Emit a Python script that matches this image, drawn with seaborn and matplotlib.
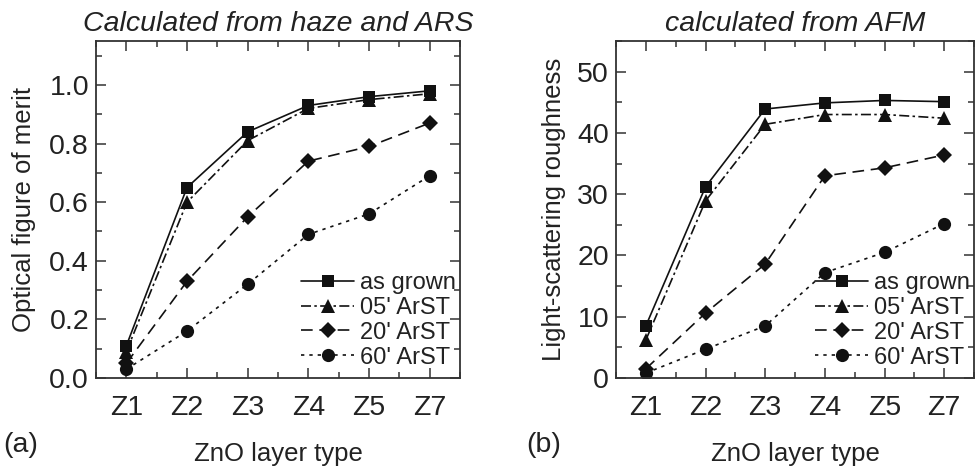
import matplotlib
matplotlib.use("Agg")
import matplotlib.pyplot as plt
from matplotlib.ticker import MultipleLocator
import numpy as np
import pandas as pd
import seaborn as sns

# ── Data ─────────────────────────────────────────────────────
layers = ["Z1", "Z2", "Z3", "Z4", "Z5", "Z7"]
series = ["as grown", "05' ArST", "20' ArST", "60' ArST"]

fom_as_grown = [0.11, 0.65, 0.84, 0.93, 0.96, 0.98]
fom_05 = [0.09, 0.60, 0.81, 0.92, 0.95, 0.97]
fom_20 = [0.05, 0.33, 0.55, 0.74, 0.79, 0.87]
fom_60 = [0.03, 0.16, 0.32, 0.49, 0.56, 0.69]

lsr_as_grown = [8.5, 31.2, 43.9, 44.9, 45.3, 45.1]
lsr_05 = [6.2, 28.9, 41.4, 43.0, 43.0, 42.4]
lsr_20 = [1.5, 10.6, 18.6, 33.0, 34.3, 36.4]
lsr_60 = [0.8, 4.7, 8.5, 17.2, 20.5, 25.2]


def long_frame(values):
    rows = []
    for name, vals in zip(series, values):
        for layer, v in zip(layers, vals):
            rows.append({"layer": layer, "series": name, "value": v})
    return pd.DataFrame(rows)


df_a = long_frame([fom_as_grown, fom_05, fom_20, fom_60])
df_b = long_frame([lsr_as_grown, lsr_05, lsr_20, lsr_60])

sns.set_theme(style="ticks")
plt.rcParams["font.family"] = ["Liberation Sans", "DejaVu Sans"]
ink = "#222222"
plt.rcParams.update({
    "text.color": ink, "axes.labelcolor": ink, "axes.edgecolor": "#333333",
    "xtick.color": "#333333", "ytick.color": "#333333",
    "xtick.labelcolor": ink, "ytick.labelcolor": ink,
})

markers = {"as grown": "s", "05' ArST": "^", "20' ArST": "D", "60' ArST": "o"}
dashes = {"as grown": "", "05' ArST": (6, 2, 1.5, 2), "20' ArST": (7, 4), "60' ArST": (2, 3)}
palette = {s: "#111111" for s in series}
msizes = {"as grown": 9, "05' ArST": 9.5, "20' ArST": 8, "60' ArST": 9.5}

fig = plt.figure(figsize=(9.77, 4.74), dpi=100)
ax_a = fig.add_axes([96 / 977, 96 / 474, 364 / 977, 337 / 474])
ax_b = fig.add_axes([616 / 977, 96 / 474, 358 / 977, 337 / 474])


def draw(ax, df, ylim, ystep, yminor, yfmt, ylabel, title, tag, ylab_x, tag_x):
    sns.lineplot(data=df, x="layer", y="value", hue="series", style="series",
                 hue_order=series, style_order=series, markers=markers,
                 dashes=dashes, palette=palette, linewidth=1.2,
                 markeredgewidth=0, legend=False, ax=ax, sort=False)
    for line, name in zip(ax.get_lines(), series):
        line.set_markersize(msizes[name])
    ax.set_xlim(-0.5, 5.5)
    ax.set_ylim(*ylim)
    ax.yaxis.set_major_locator(MultipleLocator(ystep))
    ax.yaxis.set_minor_locator(MultipleLocator(yminor))
    ax.xaxis.set_minor_locator(MultipleLocator(1, offset=0.5))
    ax.yaxis.set_major_formatter(yfmt)
    ax.tick_params(which="both", direction="in", top=True, right=True,
                   width=1.1, labelsize=20.5)
    ax.tick_params(axis="x", pad=12)
    ax.tick_params(axis="y", pad=5)
    ax.tick_params(which="major", length=7)
    ax.tick_params(which="minor", length=4)
    for sp in ax.spines.values():
        sp.set_linewidth(1.3)
    ax.set_xlabel("ZnO layer type", fontsize=18.5)
    ax.xaxis.set_label_coords(0.5, -0.19)
    ax.set_ylabel(ylabel, fontsize=18.5)
    ax.yaxis.set_label_coords(ylab_x, 0.5)
    ax.set_title(title, fontsize=20.5, style="italic", pad=7)
    ax.text(tag_x, -0.2, tag, transform=ax.transAxes,
            fontsize=20.5, va="center", ha="left")
    ax.legend(ax.get_lines()[:4], series, loc="lower right", frameon=False,
              fontsize=17, handlelength=2.25, handletextpad=0.25,
              labelspacing=0.12, borderaxespad=0.0,
              bbox_to_anchor=(1.015, 0.0))


draw(ax_a, df_a, (0, 1.15), 0.2, 0.1, "{x:.1f}", "Optical figure of merit",
     "Calculated from haze and ARS", "(a)", -0.165, -0.255)
draw(ax_b, df_b, (0, 55), 10, 5, "{x:.0f}", "Light-scattering roughness",
     "calculated from AFM", "(b)", -0.14, -0.25)

fig.savefig("out.png", dpi=100)
